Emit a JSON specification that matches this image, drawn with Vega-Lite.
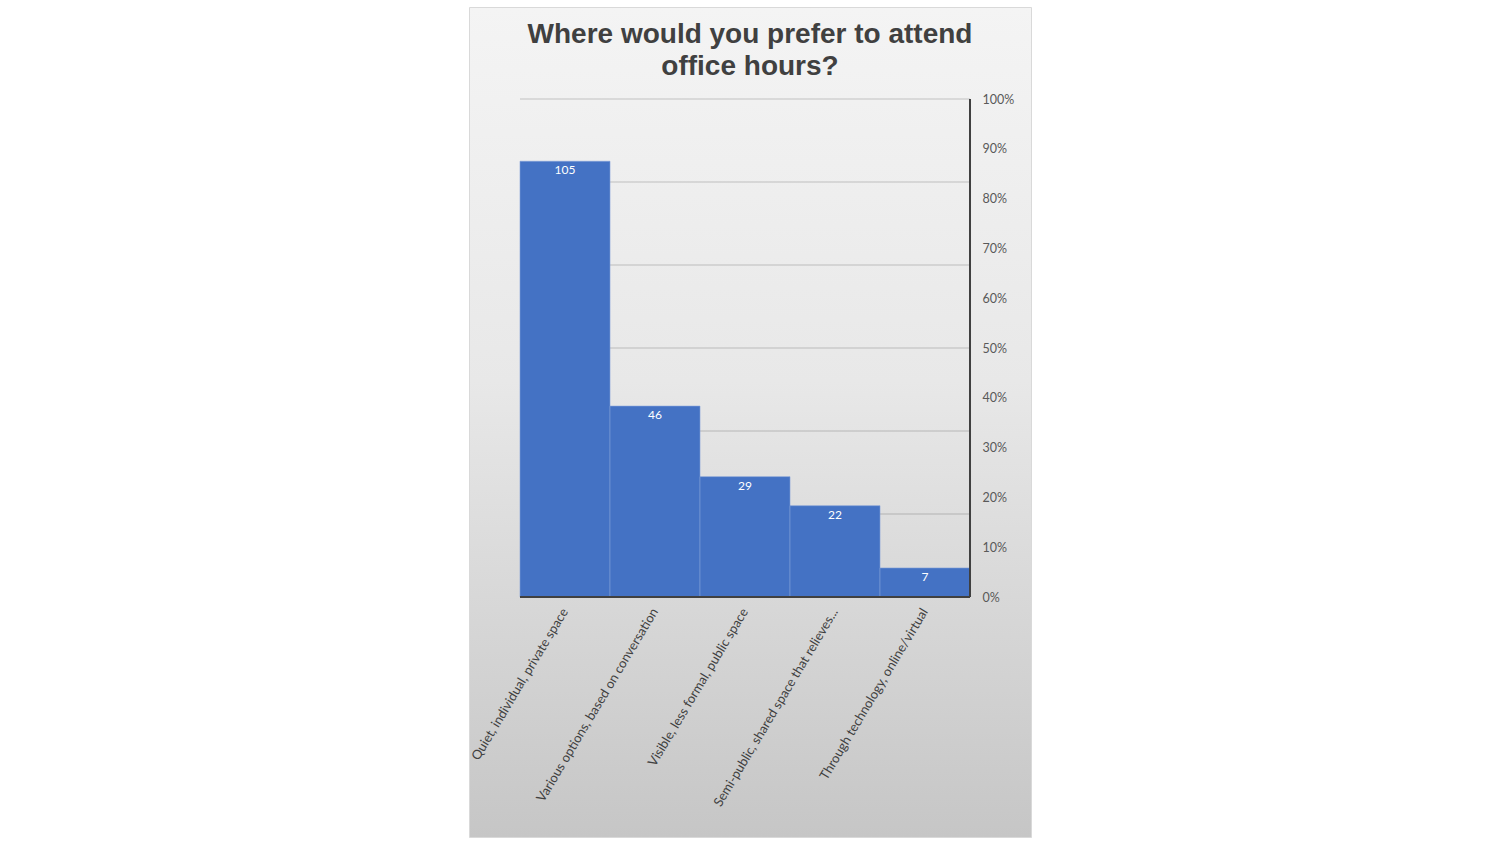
{
  "$schema": "https://vega.github.io/schema/vega-lite/v6.json",
  "width": 562,
  "height": 830,
  "autosize": {"type": "none"},
  "padding": {"left": 469, "top": 7, "right": 469, "bottom": 7},
  "background": "white",
  "title": {
    "text": ["Where would you prefer to attend", "office hours?"],
    "font": "Liberation Sans",
    "fontSize": 28,
    "fontWeight": "bold",
    "color": "#404040",
    "lineHeight": 32,
    "anchor": "middle",
    "frame": "group",
    "baseline": "top",
    "offset": -74
  },
  "config": {
    "view": {
      "fill": {
        "gradient": "linear",
        "x1": 0, "y1": 0, "x2": 0, "y2": 1,
        "stops": [
          {"offset": 0, "color": "#f4f4f4"},
          {"offset": 0.45, "color": "#e8e8e8"},
          {"offset": 1, "color": "#c6c6c6"}
        ]
      },
      "stroke": "#d9d9d9"
    },
    "axisBottom": {
      "offset": -240, "labelAngle": -59, "domain": false, "ticks": false, "grid": false,
      "labelFont": "Lato", "labelFontSize": 13, "labelColor": "#404040",
      "labelPadding": 12, "labelLimit": 0, "labelOverlap": false
    },
    "axisRight": {
      "offset": -61, "domain": false, "ticks": false, "grid": false,
      "labelFont": "Lato", "labelFontSize": 12.5, "labelColor": "#595959", "labelPadding": 12
    }
  },
  "layer": [
    {
      "data": {"values": [{"g": 20}, {"g": 40}, {"g": 60}, {"g": 80}, {"g": 100}, {"g": 120}]},
      "mark": {"type": "rule", "color": "#000000", "opacity": 0.2, "strokeWidth": 1},
      "encoding": {
        "y": {"field": "g", "type": "quantitative",
              "scale": {"domain": [-57.83, 142.17], "nice": false, "zero": false},
              "axis": {"orient": "right", "title": null, "values": [0, 12, 24, 36, 48, 60, 72, 84, 96, 108, 120],
                       "labelExpr": "format(datum.value / 120, '.0%')"}},
        "x": {"datum": "Quiet, individual, private space", "type": "nominal", "bandPosition": 0,
              "scale": {"type": "band", "paddingInner": 0, "paddingOuter": 0.6222, "align": 0.4554,
                        "domain": ["Quiet, individual, private space", "Various options, based on conversation", "Visible, less formal, public space", "Semi-public, shared space that relieves...", "Through technology, online/virtual"]},
              "axis": {"orient": "bottom", "title": null}},
        "x2": {"datum": "Through technology, online/virtual", "bandPosition": 1}
      }
    },
    {
      "data": {
        "values": [
          {"place": "Quiet, individual, private space", "count": 105},
          {"place": "Various options, based on conversation", "count": 46},
          {"place": "Visible, less formal, public space", "count": 29},
          {"place": "Semi-public, shared space that relieves...", "count": 22},
          {"place": "Through technology, online/virtual", "count": 7}
        ]
      },
      "mark": {"type": "bar", "color": "#4472c4", "stroke": "#7f9fd8", "strokeWidth": 0.6},
      "encoding": {
        "x": {"field": "place", "type": "nominal", "sort": null,
              "scale": {"type": "band", "paddingInner": 0, "paddingOuter": 0.6222, "align": 0.4554,
                        "domain": ["Quiet, individual, private space", "Various options, based on conversation", "Visible, less formal, public space", "Semi-public, shared space that relieves...", "Through technology, online/virtual"]},
              "axis": {"orient": "bottom", "title": null}},
        "y": {"field": "count", "type": "quantitative",
              "scale": {"domain": [-57.83, 142.17], "nice": false, "zero": false},
              "axis": {"orient": "right", "title": null, "values": [0, 12, 24, 36, 48, 60, 72, 84, 96, 108, 120],
                       "labelExpr": "format(datum.value / 120, '.0%')"}},
        "y2": {"datum": 0}
      }
    },
    {
      "data": {
        "values": [
          {"place": "Quiet, individual, private space", "count": 105},
          {"place": "Various options, based on conversation", "count": 46},
          {"place": "Visible, less formal, public space", "count": 29},
          {"place": "Semi-public, shared space that relieves...", "count": 22},
          {"place": "Through technology, online/virtual", "count": 7}
        ]
      },
      "mark": {"type": "text", "color": "white", "font": "Lato", "fontSize": 12, "baseline": "middle", "dy": 9},
      "encoding": {
        "x": {"field": "place", "type": "nominal", "sort": null, "axis": {"orient": "bottom", "title": null}},
        "y": {"field": "count", "type": "quantitative",
              "axis": {"orient": "right", "title": null, "values": [0, 12, 24, 36, 48, 60, 72, 84, 96, 108, 120],
                       "labelExpr": "format(datum.value / 120, '.0%')"}},
        "text": {"field": "count", "type": "quantitative"}
      }
    },
    {
      "data": {"values": [{"base": 0}]},
      "mark": {"type": "rule", "color": "#404040", "strokeWidth": 2},
      "encoding": {
        "y": {"field": "base", "type": "quantitative",
              "axis": {"orient": "right", "title": null, "values": [0, 12, 24, 36, 48, 60, 72, 84, 96, 108, 120],
                       "labelExpr": "format(datum.value / 120, '.0%')"}},
        "x": {"datum": "Quiet, individual, private space", "type": "nominal", "bandPosition": 0,
              "axis": {"orient": "bottom", "title": null}},
        "x2": {"datum": "Through technology, online/virtual", "bandPosition": 1}
      }
    },
    {
      "data": {"values": [{"lo": 0, "hi": 120}]},
      "mark": {"type": "rule", "color": "#404040", "strokeWidth": 2},
      "encoding": {
        "x": {"datum": "Through technology, online/virtual", "type": "nominal", "bandPosition": 1,
              "axis": {"orient": "bottom", "title": null}},
        "y": {"field": "lo", "type": "quantitative",
              "axis": {"orient": "right", "title": null, "values": [0, 12, 24, 36, 48, 60, 72, 84, 96, 108, 120],
                       "labelExpr": "format(datum.value / 120, '.0%')"}},
        "y2": {"field": "hi"}
      }
    }
  ]
}
